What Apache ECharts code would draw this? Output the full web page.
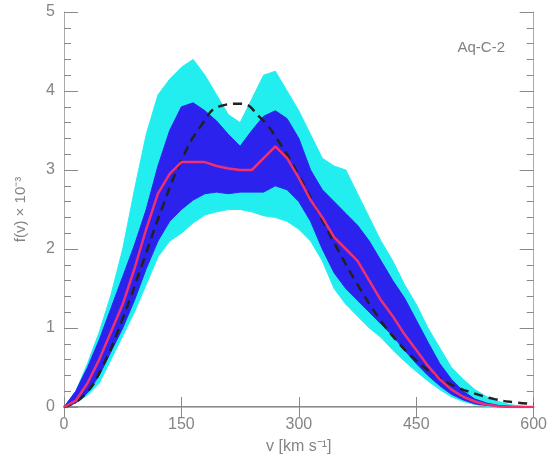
<!DOCTYPE html>
<html><head><meta charset="utf-8">
<script src="https://cdn.jsdelivr.net/npm/echarts@6/dist/echarts.min.js"></script>
<style>html,body{margin:0;padding:0;background:#fff}#c{width:550px;height:461px}</style>
</head><body><div id="c"></div>
<script>
// speed grid (km/s)
const vGrid = [0,15,30,45,60,75,90,105,120,135,150,165,180,195,210,225,240,255,270,285,300,315,330,345,360,375,390,405,420,435,450,465,480,495,510,525,540,555,570,585,600];
// outer (cyan) band
const cyanUpper = [0,0.2,0.55,0.95,1.42,2.0,2.75,3.45,3.95,4.15,4.3,4.4,4.2,3.95,3.7,3.6,3.9,4.2,4.25,4.0,3.75,3.45,3.15,3.05,3.0,2.7,2.4,2.1,1.85,1.55,1.3,1.0,0.75,0.5,0.35,0.22,0.13,0.07,0.03,0.01,0];
const cyanLower = [0,0.05,0.15,0.3,0.6,0.9,1.2,1.55,1.9,2.1,2.2,2.33,2.43,2.47,2.5,2.5,2.47,2.42,2.4,2.35,2.25,2.1,1.85,1.5,1.3,1.15,1.0,0.88,0.72,0.58,0.45,0.33,0.22,0.13,0.07,0.03,0.01,0,0,0,0];
// inner (blue) band
const blueUpper = [0,0.2,0.5,0.85,1.25,1.65,2.05,2.5,3.05,3.5,3.8,3.85,3.75,3.62,3.45,3.3,3.5,3.68,3.75,3.65,3.4,3.0,2.75,2.6,2.45,2.3,2.1,1.85,1.6,1.38,1.1,0.82,0.55,0.35,0.2,0.1,0.05,0.02,0.01,0,0];
const blueLower = [0,0.05,0.18,0.4,0.7,1.0,1.35,1.75,2.1,2.35,2.5,2.62,2.7,2.72,2.7,2.72,2.72,2.72,2.8,2.75,2.6,2.35,2.0,1.7,1.5,1.35,1.2,1.05,0.9,0.72,0.55,0.4,0.27,0.16,0.09,0.04,0.02,0.01,0,0,0];
// median
const median = [0,0.08,0.3,0.6,0.95,1.3,1.75,2.25,2.7,2.95,3.1,3.1,3.1,3.05,3.02,3.0,3.0,3.15,3.3,3.15,2.9,2.62,2.4,2.15,2.0,1.85,1.6,1.35,1.15,0.92,0.72,0.52,0.35,0.22,0.13,0.07,0.03,0.01,0,0,0];
// dashed reference curve
const refV = [0,25,50,75,100,125,150,175,200,225,250,275,300,325,350,375,400,425,450,475,500,525,550,575,600];
const refF = [0,0.14,0.53,1.12,1.81,2.51,3.12,3.56,3.81,3.84,3.67,3.35,2.93,2.46,1.99,1.55,1.16,0.84,0.59,0.40,0.26,0.17,0.10,0.06,0.04];
const xTicks = [0,150,300,450,600];
const yTicks = [0,1,2,3,4,5];

const pair = (xs, ys) => xs.map((x, i) => [x, ys[i]]);

const axisGrey = '#8a8a8a';
const FONT = 'Liberation Sans, Arial, sans-serif';
const labelStyle = {color: '#858585', fontSize: 16, fontFamily: FONT};

function bandSeries(upper, lower, color) {
  return {
    type: 'custom',
    data: [[0, 0]],
    silent: true,
    renderItem: function (params, api) {
      const pts = [];
      for (let i = 0; i < vGrid.length; i++) pts.push(api.coord([vGrid[i], upper[i]]));
      for (let i = vGrid.length - 1; i >= 0; i--) pts.push(api.coord([vGrid[i], lower[i]]));
      return {type: 'polygon', shape: {points: pts}, style: {fill: color, stroke: color, lineWidth: 1}};
    }
  };
}

function yAx(pos, interval, tickLen, showLabel, showLine) {
  const ax = {
    type: 'value', min: 0, max: 5, interval: interval, position: pos,
    axisLine: {show: showLine, lineStyle: {color: '#aaa', width: 1}},
    axisTick: {show: true, inside: true, length: tickLen, lineStyle: {color: axisGrey}},
    axisLabel: showLabel ? Object.assign({margin: 9, formatter: v => yTicks.includes(v) ? String(v) : ''}, labelStyle) : {show: false},
    splitLine: {show: false}
  };
  if (showLabel) {
    ax.name = 'f(v) × 10⁻³';
    ax.nameLocation = 'middle';
    ax.nameGap = 36;
    ax.nameRotate = 90;
    ax.nameTextStyle = {color: '#858585', fontSize: 15, fontFamily: FONT};
  }
  return ax;
}

const chart = echarts.init(document.getElementById('c'));
chart.setOption({
  animation: false,
  grid: {left: 64, right: 12, top: 12, bottom: 54},
  xAxis: [{
    type: 'value', min: 0, max: 600, interval: 150, position: 'bottom',
    axisLine: {lineStyle: {color: axisGrey, width: 2}},
    axisTick: {inside: true, length: 10, lineStyle: {color: axisGrey}},
    axisLabel: Object.assign({margin: 10, formatter: v => xTicks.includes(v) ? String(v) : ''}, labelStyle),
    splitLine: {show: false},
    name: 'v [km s⁻¹]', nameLocation: 'middle', nameGap: 32,
    nameTextStyle: labelStyle
  }, {
    type: 'value', min: 0, max: 600, interval: 150, position: 'top',
    axisLine: {lineStyle: {color: '#bbb', width: 1}},
    axisTick: {inside: true, length: 10, lineStyle: {color: axisGrey}},
    axisLabel: {show: false}, splitLine: {show: false}
  }],
  yAxis: [
    yAx('left', 1, 14, true, true),
    yAx('left', 0.2, 7, false, false),
    yAx('right', 1, 14, false, true),
    yAx('right', 0.2, 7, false, false)
  ],
  graphic: [{
    type: 'text', right: 45, top: 40,
    style: {text: 'Aq-C-2', fill: '#808080', fontSize: 15, fontFamily: FONT}
  }],
  series: [
    bandSeries(cyanUpper, cyanLower, '#22eef0'),
    bandSeries(blueUpper, blueLower, '#2c22ee'),
    {type: 'line', data: pair(refV, refF), showSymbol: false, smooth: true, z: 3, lineStyle: {color: '#222', width: 2.5, type: [9, 6]}},
    {type: 'line', data: pair(vGrid, median), showSymbol: false, z: 4, lineStyle: {color: '#f0306e', width: 2.5}}
  ]
});
</script></body></html>
